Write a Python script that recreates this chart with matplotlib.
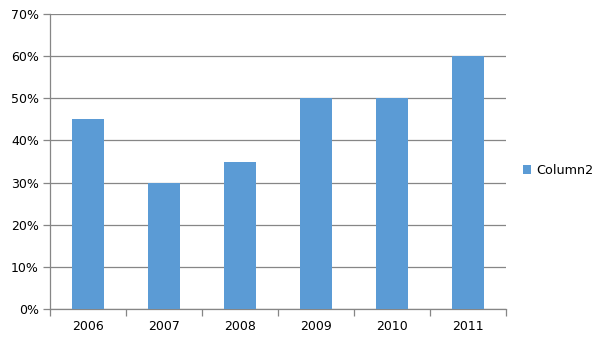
import matplotlib.pyplot as plt
import numpy as np
from matplotlib.ticker import FuncFormatter, FixedLocator
from matplotlib.patches import Patch

years = ["2006", "2007", "2008", "2009", "2010", "2011"]
column2 = [0.45, 0.30, 0.35, 0.50, 0.50, 0.60]

bar_color = "#5B9BD5"
line_color = "#868686"

fig = plt.figure(figsize=(6.05, 3.4), dpi=100)
ax = fig.add_axes([50 / 605, 31 / 340, 456 / 605, 295 / 340])

x = np.arange(len(years))
ax.bar(x, column2, width=0.41, color=bar_color, zorder=3)

ax.set_xlim(-0.5, len(years) - 0.5)
ax.set_ylim(0, 0.70)
ax.set_yticks(np.arange(0, 0.71, 0.10))
ax.yaxis.set_major_formatter(FuncFormatter(lambda v, p: f"{v * 100:.0f}%"))
ax.grid(axis="y", color=line_color, linewidth=0.9, zorder=0)

ax.set_xticks(x)
ax.set_xticklabels(years)
ax.tick_params(axis="x", which="major", length=0, pad=8)
ax.xaxis.set_minor_locator(FixedLocator(np.arange(-0.5, len(years), 1.0)))
ax.tick_params(axis="x", which="minor", length=5, color=line_color, width=0.9)
ax.tick_params(axis="y", length=5, color=line_color, width=0.9, pad=3)
ax.tick_params(labelsize=9, labelcolor="#000000")

for s in ["top", "right"]:
    ax.spines[s].set_visible(False)
for s in ["left", "bottom"]:
    ax.spines[s].set_color(line_color)
    ax.spines[s].set_linewidth(0.9)

handle = Patch(facecolor=bar_color, edgecolor="none", label="Column2")
fig.legend(handles=[handle], loc="center left", bbox_to_anchor=(511 / 605, 170 / 340),
           frameon=False, fontsize=9.2, handlelength=0.7, handleheight=0.7,
           handletextpad=0.35)

fig.savefig("out.png", dpi=100)
